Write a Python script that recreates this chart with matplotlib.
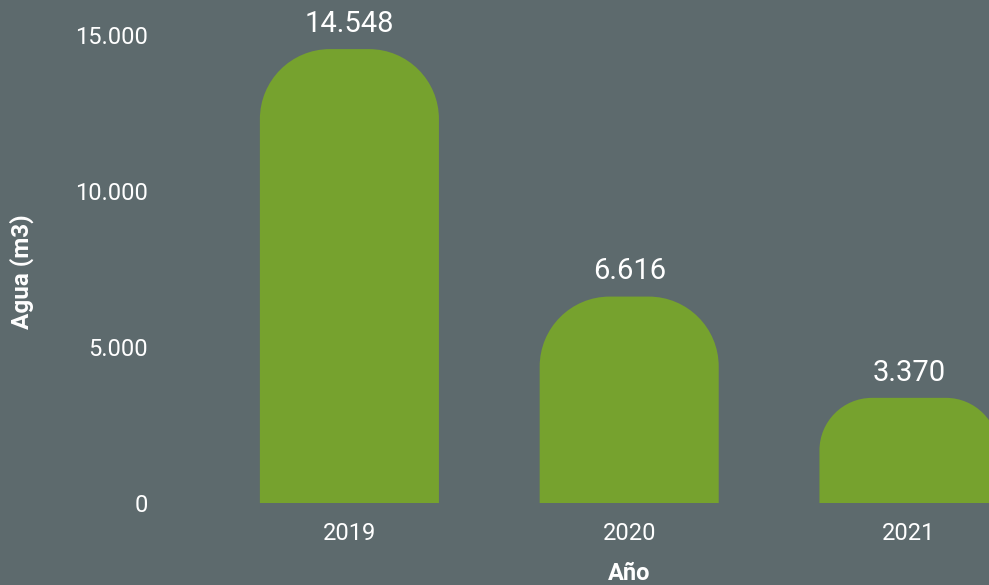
import matplotlib
matplotlib.use("Agg")
import matplotlib.pyplot as plt
from matplotlib.path import Path
from matplotlib.patches import PathPatch
from matplotlib.ticker import FuncFormatter

years = ["2019", "2020", "2021"]
agua = [14548, 6616, 3370]
y_ticks = [0, 5000, 10000, 15000]

bg = "#5d6a6d"
green = "#76a22e"
white = "#ffffff"

plt.rcParams["font.family"] = ["Roboto", "DejaVu Sans"]

fig = plt.figure(figsize=(9.89, 5.85), dpi=100, facecolor=bg)
W, H = 989, 585
ax = fig.add_axes([160 / W, (H - 503) / H, (W - 160) / W, 468 / H])
ax.set_facecolor(bg)

x = list(range(len(years)))
bars = ax.bar(x, agua, width=0.64, color=green)
ax.set_xlim(-0.677, 2.286)
ax.set_ylim(0, 15000)

# redondear la parte de arriba de cada barra (radio en píxeles)
r_max = 70
kappa = 0.5523
px_x = ax.transData.transform((1, 0))[0] - ax.transData.transform((0, 0))[0]
px_y = ax.transData.transform((0, 1))[1] - ax.transData.transform((0, 0))[1]
for b in bars:
    x0, w, h = b.get_x(), b.get_width(), b.get_height()
    x1 = x0 + w
    r = min(r_max, h * px_y / 2)
    rx, ry = r / px_x, r / px_y
    verts = [
        (x0, 0), (x0, h - ry),
        (x0, h - ry + kappa * ry), (x0 + rx - kappa * rx, h), (x0 + rx, h),
        (x1 - rx, h),
        (x1 - rx + kappa * rx, h), (x1, h - ry + kappa * ry), (x1, h - ry),
        (x1, 0), (x0, 0),
    ]
    codes = [Path.MOVETO, Path.LINETO,
             Path.CURVE4, Path.CURVE4, Path.CURVE4,
             Path.LINETO,
             Path.CURVE4, Path.CURVE4, Path.CURVE4,
             Path.LINETO, Path.CLOSEPOLY]
    ax.add_patch(PathPatch(Path(verts, codes), facecolor=green, edgecolor="none"))
    b.set_visible(False)
    ax.annotate(f"{h:,.0f}".replace(",", "."), (x0 + w / 2, h),
                xytext=(0, 8), textcoords="offset points",
                ha="center", va="bottom", color=white, fontsize=21)

ax.set_xticks(x)
ax.set_xticklabels(years)
ax.set_yticks(y_ticks)
ax.yaxis.set_major_formatter(FuncFormatter(lambda v, p: f"{v:,.0f}".replace(",", ".")))
ax.tick_params(axis="both", length=0, colors=white, labelsize=17)
ax.tick_params(axis="y", pad=9)
ax.tick_params(axis="x", pad=14)
for s in ax.spines.values():
    s.set_visible(False)

ax.set_xlabel("Año", color=white, fontsize=17, fontweight="bold")
ax.xaxis.set_label_coords((629 - 160) / (W - 160), -(573 - 503) / 468)
ax.xaxis.label.set_va("center")
ax.set_ylabel("Agua (m3)", color=white, fontsize=17.5, fontweight="bold")
ax.yaxis.set_label_coords(-(160 - 22) / (W - 160), (503 - 272) / 468)
ax.yaxis.label.set_va("center")

fig.savefig("out.png", dpi=100, facecolor=bg)
